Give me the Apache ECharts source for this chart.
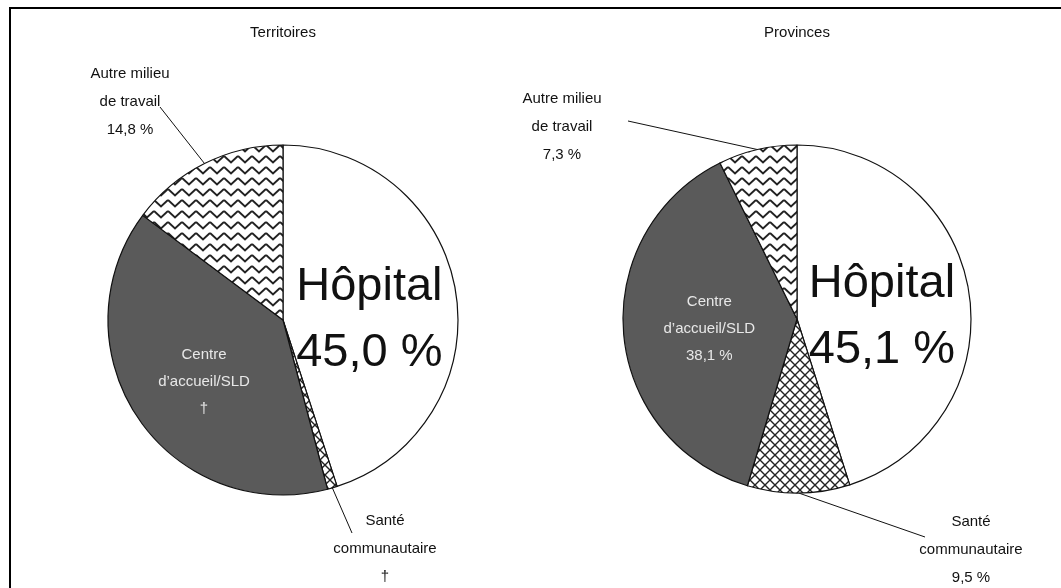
<!DOCTYPE html>
<html>
<head>
<meta charset="utf-8">
<script src="https://cdn.jsdelivr.net/npm/echarts@6/dist/echarts.min.js"></script>
<style>
html,body{margin:0;padding:0;background:#fff;}
#chart{width:1061px;height:588px;}
</style>
</head>
<body>
<div id="chart"></div>
<script>
const categories = ['Hôpital', 'Santé communautaire', 'Centre d’accueil/SLD', 'Autre milieu de travail'];
const categoryLines = ['Hôpital', 'Santé\ncommunautaire', 'Centre\nd’accueil/SLD', 'Autre milieu\nde travail'];
const panelTitles = ['Territoires', 'Provinces'];
const territoiresValues = [45.0, 0.9, 39.3, 14.8];
const provincesValues = [45.1, 9.5, 38.1, 7.3];
const territoiresValueLabels = ['45,0 %', '†', '†', '14,8 %'];
const provincesValueLabels = ['45,1 %', '9,5 %', '38,1 %', '7,3 %'];

const FONT = "'Liberation Sans Narrow', 'Arial Narrow', 'Liberation Sans', Arial, sans-serif";

function zigzagPattern() {
  const c = document.createElement('canvas');
  c.width = 14; c.height = 11;
  const g = c.getContext('2d');
  g.fillStyle = '#fff'; g.fillRect(0, 0, 14, 11);
  g.strokeStyle = '#222'; g.lineWidth = 2;
  g.beginPath();
  g.moveTo(0, 2); g.lineTo(7, 8.5); g.lineTo(14, 2);
  g.stroke();
  return c;
}
function crossPattern() {
  const c = document.createElement('canvas');
  c.width = 10; c.height = 10;
  const g = c.getContext('2d');
  g.fillStyle = '#fff'; g.fillRect(0, 0, 10, 10);
  g.strokeStyle = '#222'; g.lineWidth = 1.4;
  g.beginPath();
  g.moveTo(-1, -1); g.lineTo(11, 11);
  g.moveTo(11, -1); g.lineTo(-1, 11);
  g.stroke();
  return c;
}

const fills = [
  '#ffffff',
  { image: crossPattern(), repeat: 'repeat' },
  '#5a5a5a',
  { image: zigzagPattern(), repeat: 'repeat' }
];

function buildData(values, valueLabels) {
  return values.map((v, i) => {
    const d = {
      name: categories[i],
      value: v,
      itemStyle: { color: fills[i], borderColor: '#111', borderWidth: 1.2 }
    };
    const text = categoryLines[i] + '\n' + valueLabels[i];
    if (i === 0) {
      d.label = {
        show: true, position: 'inside', formatter: text,
        fontSize: 47, lineHeight: 66, color: '#111', fontFamily: FONT
      };
      d.labelLine = { show: false };
    } else if (i === 2) {
      d.label = {
        show: true, position: 'inside', formatter: text,
        fontSize: 15, lineHeight: 27, color: '#e8e8e8', fontFamily: FONT
      };
      d.labelLine = { show: false };
    } else {
      d.label = {
        show: true, position: 'outside', formatter: text,
        fontSize: 15, lineHeight: 28, color: '#111', fontFamily: FONT, align: 'center'
      };
      d.labelLine = { show: true, lineStyle: { color: '#111', width: 1 } };
    }
    return d;
  });
}

// label anchor positions and leader line end points (label placement only)
const outsideLayouts = [
  { // Territoires
    1: { x: 385, y: 549, end: [352, 533] },
    3: { x: 130, y: 102, end: [160, 107] }
  },
  { // Provinces
    1: { x: 971, y: 550, end: [925, 537] },
    3: { x: 562, y: 127, end: [628, 121] }
  }
];
const innerOffsets = [
  { 0: [-3, 14], 2: [-4, 11] },
  { 0: [-4, 12], 2: [2, 2] }
];

function makeLayout(panel) {
  return function (params) {
    const lay = outsideLayouts[panel][params.dataIndex];
    if (lay) {
      const p0 = params.labelLinePoints ? params.labelLinePoints[0] : lay.end;
      return {
        x: lay.x, y: lay.y, align: 'center', verticalAlign: 'middle',
        labelLinePoints: [p0, lay.end, lay.end]
      };
    }
    const off = innerOffsets[panel][params.dataIndex];
    if (off) {
      return { dx: off[0], dy: off[1] };
    }
    return {};
  };
}

const chart = echarts.init(document.getElementById('chart'));
chart.setOption({
  backgroundColor: '#fff',
  animation: false,
  title: [
    { text: panelTitles[0], left: 278, top: 20, textAlign: 'center',
      textStyle: { fontSize: 15, fontWeight: 'normal', color: '#111', fontFamily: FONT } },
    { text: panelTitles[1], left: 792, top: 20, textAlign: 'center',
      textStyle: { fontSize: 15, fontWeight: 'normal', color: '#111', fontFamily: FONT } }
  ],
  graphic: [
    { type: 'rect', shape: { x: 10, y: 8, width: 1200, height: 800 },
      style: { fill: 'none', stroke: '#000', lineWidth: 2 }, silent: true, z: 100 }
  ],
  series: [
    {
      type: 'pie', name: panelTitles[0],
      center: [283, 320], radius: 175,
      startAngle: 90, clockwise: true,
      avoidLabelOverlap: false,
      data: buildData(territoiresValues, territoiresValueLabels),
      labelLayout: makeLayout(0),
      emphasis: { disabled: true }
    },
    {
      type: 'pie', name: panelTitles[1],
      center: [797, 319], radius: 174,
      startAngle: 90, clockwise: true,
      avoidLabelOverlap: false,
      data: buildData(provincesValues, provincesValueLabels),
      labelLayout: makeLayout(1),
      emphasis: { disabled: true }
    }
  ]
});
</script>
</body>
</html>
